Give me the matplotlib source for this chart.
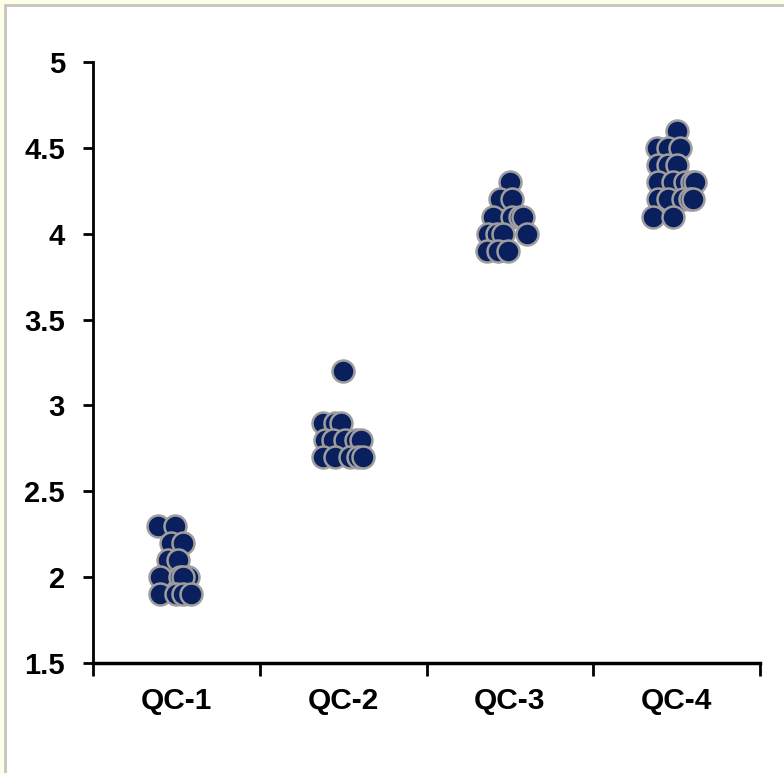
import matplotlib.pyplot as plt
from matplotlib.patches import Rectangle

plt.rcParams['font.family'] = 'Liberation Sans'
plt.rcParams['font.weight'] = 'bold'

# 그룹 이름
groups = ['QC-1', 'QC-2', 'QC-3', 'QC-4']

qc1_values = [2.3, 2.3, 2.2, 2.2, 2.1, 2.1, 2.0, 2.0, 2.0, 2.0, 1.9, 1.9, 1.9, 1.9]
qc2_values = [3.2, 2.9, 2.9, 2.9, 2.8, 2.8, 2.8, 2.8, 2.8, 2.7, 2.7, 2.7, 2.7, 2.7]
qc3_values = [4.3, 4.2, 4.2, 4.1, 4.1, 4.1, 4.1, 4.0, 4.0, 4.0, 4.0, 3.9, 3.9, 3.9]
qc4_values = [4.6, 4.5, 4.5, 4.5, 4.4, 4.4, 4.4, 4.3, 4.3, 4.3, 4.3, 4.3,
              4.2, 4.2, 4.2, 4.2, 4.2, 4.1, 4.1]

# 점이 겹치지 않도록 한 가로 오프셋 (그림에서 읽은 값, 카테고리 단위)
qc1_jitter = [-0.11, -0.01, -0.03, 0.04, -0.05, 0.01, -0.10, 0.02, 0.07, 0.04, -0.10, 0.0, 0.04, 0.09]
qc2_jitter = [0.0, -0.12, -0.05, -0.01, -0.11, -0.06, 0.01, 0.08, 0.11, -0.12, -0.05, 0.04, 0.09, 0.12]
qc3_jitter = [0.0, -0.06, 0.01, -0.10, 0.01, 0.06, 0.08, -0.13, -0.08, -0.04, 0.10, -0.14, -0.07, -0.01]
qc4_jitter = [0.0, -0.12, -0.05, 0.02, -0.11, -0.05, 0.0, -0.11, -0.02, 0.05, 0.09, 0.11,
              -0.11, -0.05, 0.04, 0.08, 0.10, -0.14, -0.02]

all_values = [qc1_values, qc2_values, qc3_values, qc4_values]
all_jitter = [qc1_jitter, qc2_jitter, qc3_jitter, qc4_jitter]

fig = plt.figure(figsize=(7.84, 7.73), dpi=100)
fig.patch.set_facecolor('#FFFFE6')
# 흰색 패널과 회색 테두리
fig.patches.append(Rectangle((5 / 784, -0.01), 1.0, 1 - 5 / 773 + 0.01,
                             transform=fig.transFigure, facecolor='white',
                             edgecolor='#C4C4C4', linewidth=2, zorder=-10))

ax = fig.add_axes([93 / 784, 1 - 663 / 773, (760 - 93) / 784, (663 - 62) / 773])
ax.set_facecolor('none')

for i, (vals, jit) in enumerate(zip(all_values, all_jitter)):
    xs = [i + 1 + j for j in jit]
    ax.scatter(xs, vals, s=250, color='#0A1F5E', edgecolors='#9E9E9E',
               linewidths=1.8, zorder=3, clip_on=False)

ax.set_xlim(0.5, 4.5)
ax.set_ylim(1.5, 5)
ax.set_yticks([1.5, 2, 2.5, 3, 3.5, 4, 4.5, 5])
ax.set_yticklabels(['1.5', '2', '2.5', '3', '3.5', '4', '4.5', '5'])
ax.set_xticks([1, 2, 3, 4])
ax.set_xticklabels(groups)
ax.set_xticks([0.5, 1.5, 2.5, 3.5, 4.5], minor=True)

ax.tick_params(axis='x', which='major', length=0, pad=17, labelsize=21.5)
ax.tick_params(axis='x', which='minor', length=9, width=2, direction='out')
ax.tick_params(axis='y', length=7.2, width=2, direction='out', pad=13, labelsize=21)

ax.spines['top'].set_visible(False)
ax.spines['right'].set_visible(False)
ax.spines['left'].set_linewidth(2)
ax.spines['bottom'].set_linewidth(2.5)

plt.savefig('out.png', dpi=100, facecolor=fig.get_facecolor())
